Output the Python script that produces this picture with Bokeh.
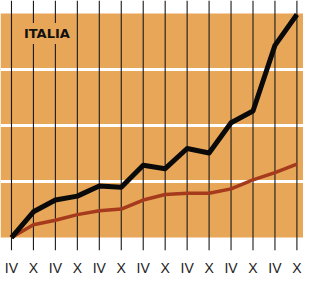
from bokeh.plotting import figure
from bokeh.models import Range1d, FixedTicker, Label
from bokeh.embed import file_html
from bokeh.resources import INLINE

# Data (index units: bottom of panel = 0, each white gridline = 1 unit)
periods = list(range(14))
tick_labels = ["IV", "X"] * 7
black_series = [0, 0.46, 0.67, 0.74, 0.92, 0.90, 1.29, 1.23, 1.59, 1.51, 2.05, 2.26, 3.43, 3.98]
red_series = [0, 0.23, 0.31, 0.41, 0.48, 0.51, 0.67, 0.77, 0.79, 0.79, 0.87, 1.03, 1.16, 1.31]
grid_levels = [1, 2, 3]
panel_bottom, panel_top = 0, 4
title = "ITALIA"

ORANGE = "#E8A658"
YMIN, YMAX = -0.23, 4.23

p = figure(width=303, height=278, output_backend="svg", toolbar_location=None,
           x_range=Range1d(-0.5, 13.3), y_range=Range1d(YMIN, YMAX),
           min_border_left=0, min_border_right=0, min_border_top=0, min_border_bottom=21)
p.outline_line_color = None
p.background_fill_color = "white"
p.border_fill_color = "white"
p.xgrid.visible = False
p.ygrid.visible = False
p.yaxis.visible = False

# orange panel
p.quad(left=[-0.5], right=[13.3], bottom=[panel_bottom], top=[panel_top],
       fill_color=ORANGE, line_color=None)
# white horizontal lines
p.segment(x0=[-0.5] * len(grid_levels), x1=[13.3] * len(grid_levels),
          y0=grid_levels, y1=grid_levels, line_color="white", line_width=3)
# vertical black lines
p.segment(x0=periods, x1=periods, y0=[YMIN] * len(periods), y1=[YMAX] * len(periods),
          line_color="#1a1a1a", line_width=1.1)

# series
p.line(periods, red_series, line_color="#A53A1C", line_width=3.5, line_join="round")
p.line(periods, black_series, line_color="#0a0a0a", line_width=5, line_join="round")

# title
p.add_layout(Label(x=0.43, y=3.64, text=title, text_font="DejaVu Sans",
                   text_font_style="bold", text_font_size="13px", text_color="#111111",
                   text_baseline="middle", background_fill_color=ORANGE,
                   border_line_color=None, padding=3))

# x axis
ax = p.xaxis[0]
ax.ticker = FixedTicker(ticks=periods)
ax.major_label_overrides = {i: t for i, t in zip(periods, tick_labels)}
ax.axis_line_color = None
ax.major_tick_line_color = None
ax.minor_tick_line_color = None
ax.major_label_standoff = 3
ax.major_label_text_font = "Liberation Sans"
ax.major_label_text_font_size = "14px"
ax.major_label_text_color = "#222222"

open("out.html", "w").write(file_html(p, INLINE))
